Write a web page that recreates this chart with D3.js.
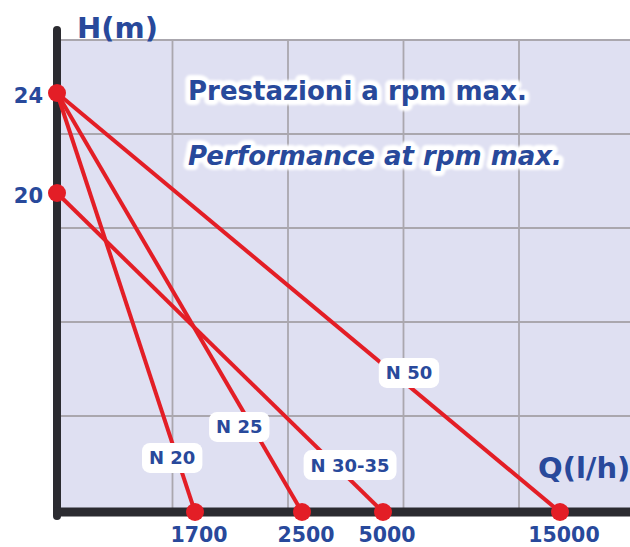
<!DOCTYPE html>
<html>
<head>
<meta charset="utf-8">
<script src="https://cdn.jsdelivr.net/npm/d3@7"></script>
<style>
html,body{margin:0;padding:0;background:#ffffff;}
svg{display:block;}
</style>
</head>
<body>
<script>
// ---- data ----
const seriesNames = ["N 20", "N 25", "N 30-35", "N 50"];
const headMax = [24, 24, 20, 24];          // H (m) at Q = 0
const flowMax = [1700, 2500, 5000, 15000]; // Q (l/h) at H = 0
const xTickLabels = [1700, 2500, 5000, 15000];
const yTickLabels = [20, 24];
const titleLines = ["Prestazioni a rpm max.", "Performance at rpm max."];
const xAxisTitle = "Q(l/h)";
const yAxisTitle = "H(m)";

// ---- layout ----
const W = 630, H = 547;
const blue = "#28499b", red = "#e31e26", lav = "#dfe0f2", gridCol = "#aaa7ae", axisCol = "#2b2b30";
const font = "'DejaVu Sans', sans-serif";

const svg = d3.select("body").append("svg").attr("width", W).attr("height", H);

// non-linear (piecewise) scales as in the original chart
const x = d3.scaleLinear().domain([0, 1700, 2500, 5000, 15000]).range([57, 195, 302, 383, 560]);
const y = d3.scaleLinear().domain([0, 20, 24]).range([512, 193, 93]);

// plot background
svg.append("rect").attr("x", 61).attr("y", 40).attr("width", W - 61).attr("height", 468).attr("fill", lav);

// grid
const gx = d3.scaleLinear().domain([0, 5]).range([57, 634.5]);
const gy = d3.scaleLinear().domain([0, 5]).range([510, 40]);
const grid = svg.append("g").attr("stroke", gridCol).attr("stroke-width", 1.8);
grid.selectAll("line.v").data([1, 2, 3, 4]).join("line").attr("class", "v")
  .attr("x1", d => gx(d)).attr("x2", d => gx(d)).attr("y1", 40).attr("y2", 508);
grid.selectAll("line.h").data([1, 2, 3, 4, 5]).join("line").attr("class", "h")
  .attr("x1", 60).attr("x2", W).attr("y1", d => gy(d)).attr("y2", d => gy(d));

// axes
svg.append("line").attr("x1", 57).attr("x2", 57).attr("y1", 30).attr("y2", 516)
  .attr("stroke", axisCol).attr("stroke-width", 8).attr("stroke-linecap", "round");
svg.append("line").attr("x1", 54).attr("x2", W + 5).attr("y1", 512).attr("y2", 512)
  .attr("stroke", axisCol).attr("stroke-width", 9);

// title text with white halo
const defs = svg.append("defs");
const f = defs.append("filter").attr("id", "soft").attr("x", "-5%").attr("y", "-30%").attr("width", "110%").attr("height", "160%");
f.append("feGaussianBlur").attr("stdDeviation", 0.8);

function haloText(g, txt, tx, ty, size, italic) {
  g.append("text").attr("x", tx).attr("y", ty).text(txt)
    .attr("font-family", font).attr("font-weight", "bold").attr("font-size", size)
    .attr("font-style", italic ? "italic" : "normal")
    .attr("fill", "none").attr("stroke", "#ffffff").attr("stroke-width", 10)
    .attr("stroke-linejoin", "round").attr("filter", "url(#soft)");
  g.append("text").attr("x", tx).attr("y", ty).text(txt)
    .attr("font-family", font).attr("font-weight", "bold").attr("font-size", size)
    .attr("font-style", italic ? "italic" : "normal").attr("fill", blue);
}
const tg = svg.append("g");
haloText(tg, titleLines[0], 188, 100, 26, false);
haloText(tg, titleLines[1], 188, 165, 26, true);

// series lines
const lineGen = d3.line().x(d => x(d[0])).y(d => y(d[1]));
const seriesData = seriesNames.map((n, i) => ({name: n, pts: [[0, headMax[i]], [flowMax[i], 0]]}));
svg.append("g").selectAll("path").data(seriesData).join("path")
  .attr("d", d => lineGen(d.pts)).attr("fill", "none").attr("stroke", red).attr("stroke-width", 4);

// dots
const dotsY = yTickLabels.map(v => [0, v]);
const dotsX = xTickLabels.map(v => [v, 0]);
svg.append("g").selectAll("circle").data(dotsY.concat(dotsX)).join("circle")
  .attr("cx", d => x(d[0])).attr("cy", d => y(d[1])).attr("r", 9).attr("fill", red);

// series labels (boxes on lines)
const labelT = [0.871, 0.797, 0.853, 0.668];
const labelDx = [-5, -13, 15, 16];
const lg = svg.append("g");
seriesData.forEach((s, i) => {
  const x0 = x(s.pts[0][0]), y0 = y(s.pts[0][1]), x1 = x(s.pts[1][0]), y1 = y(s.pts[1][1]);
  const cx = x0 + (x1 - x0) * labelT[i] + labelDx[i];
  const cy = y0 + (y1 - y0) * labelT[i];
  const t = lg.append("text").attr("x", cx).attr("y", cy + 6.5).attr("text-anchor", "middle")
    .attr("font-family", font).attr("font-weight", "bold").attr("font-size", 18).attr("fill", blue).text(s.name);
  const bb = t.node().getBBox();
  lg.insert("rect", "text").attr("x", bb.x - 7).attr("y", cy - 15).attr("width", bb.width + 14).attr("height", 30)
    .attr("rx", 8).attr("fill", "#ffffff");
});

// tick labels
svg.append("g").selectAll("text").data(yTickLabels).join("text")
  .attr("x", 43).attr("y", d => y(d) + 9.5).attr("text-anchor", "end")
  .attr("font-family", font).attr("font-weight", "bold").attr("font-size", 21).attr("fill", blue).text(d => d);
svg.append("g").selectAll("text").data(xTickLabels).join("text")
  .attr("x", d => x(d) + 4).attr("y", 542).attr("text-anchor", "middle")
  .attr("font-family", font).attr("font-weight", "bold").attr("font-size", 20.5).attr("fill", blue).text(d => d);

// axis titles
svg.append("text").attr("x", 77).attr("y", 38).attr("font-family", font).attr("font-weight", "bold")
  .attr("font-size", 29).attr("fill", blue).text(yAxisTitle);
svg.append("text").attr("x", 538).attr("y", 478).attr("font-family", font).attr("font-weight", "bold")
  .attr("font-size", 29).attr("fill", blue).text(xAxisTitle);
</script>
</body>
</html>
